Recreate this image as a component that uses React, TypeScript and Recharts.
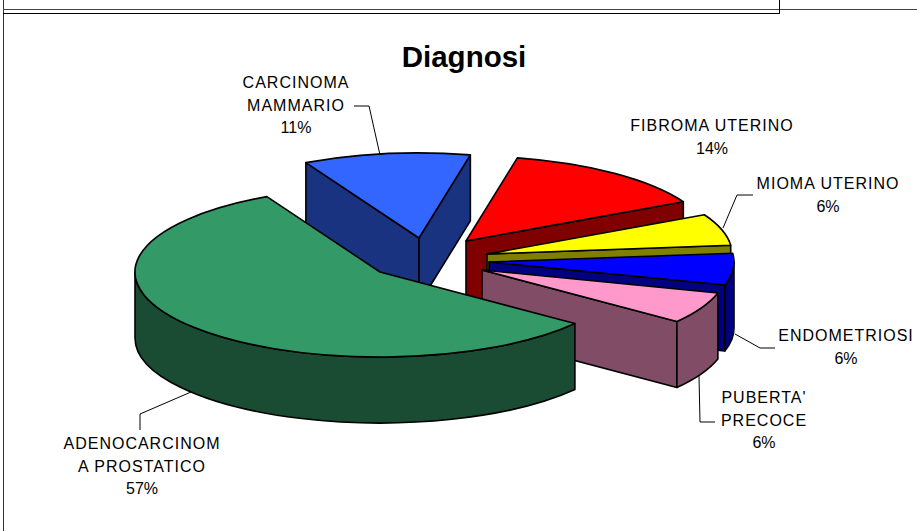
import { PieChart, Pie } from 'recharts'

// draw order is back to front, so the big slice comes last
const categories = ['CARCINOMA MAMMARIO', 'FIBROMA UTERINO', 'MIOMA UTERINO', 'ENDOMETRIOSI', "PUBERTA' PRECOCE", 'ADENOCARCINOMA PROSTATICO']
const percents = [11, 14, 6, 6, 6, 57]
const topColors = ['#3366ff', '#ff0000', '#ffff00', '#0000ff', '#ff99cc', '#339966']
const sideColors = ['#1a3380', '#800000', '#808000', '#000080', '#804c66', '#1a4c33']
const labelLines = [
  ['CARCINOMA', 'MAMMARIO'], ['FIBROMA UTERINO'], ['MIOMA UTERINO'],
  ['ENDOMETRIOSI'], ["PUBERTA'", 'PRECOCE'], ['ADENOCARCINOM', 'A PROSTATICO'],
]

const W = 917
const H = 531
const CX = 440
const CY = 262
const RX = 245
const SQUASH = 0.347
const DEPTH = 66
const FONT = '"Liberation Sans", Arial, sans-serif'

// explosion of each slice from the pie centre
const explode = [[-21, -24], [26, -21], [47, -8], [49, 0], [42, 8], [-60, 10]]
// hand placed labels like the original: text centre, first baseline, leader polyline
const labelPos = [
  { x: 296, y: 88, leader: '354,106 369,106 380,155' },
  { x: 712, y: 131, leader: '' },
  { x: 828, y: 189, leader: '753,195 737,195 723,228' },
  { x: 846, y: 341, leader: '775,348 760,348 735,334' },
  { x: 764, y: 403, leader: '715,422 700,422 699,376' },
  { x: 142, y: 449, leader: '140,430 140,414 191,392' },
]

const rows = categories.map((name, i) => ({ name, value: percents[i], fill: topColors[i] }))

function Slice3D(props: any) {
  const { cx, cy, outerRadius, startAngle, endAngle, index } = props
  const ax = cx + explode[index][0]
  const ay = cy + explode[index][1]
  const rx = outerRadius
  const ry = outerRadius * SQUASH
  const pt = (deg: number) => {
    const t = (deg * Math.PI) / 180
    return [ax + rx * Math.cos(t), ay - ry * Math.sin(t)]
  }
  const [sx, sy] = pt(startAngle)
  const [ex, ey] = pt(endAngle)
  const large = startAngle - endAngle > 180 ? 1 : 0
  const side = sideColors[index]
  const top = topColors[index]
  const edge = { stroke: '#000', strokeWidth: 1.6, strokeLinejoin: 'round' as const }

  const walls = []
  // radial walls, only those facing the viewer
  if (Math.sin(((startAngle + 90) * Math.PI) / 180) < 0) {
    walls.push(<path key="s" d={`M${ax},${ay}L${sx},${sy}L${sx},${sy + DEPTH}L${ax},${ay + DEPTH}Z`} fill={side} {...edge} />)
  }
  if (Math.sin(((endAngle - 90) * Math.PI) / 180) < 0) {
    walls.push(<path key="e" d={`M${ax},${ay}L${ex},${ey}L${ex},${ey + DEPTH}L${ax},${ay + DEPTH}Z`} fill={side} {...edge} />)
  }
  // rim, front half of the ellipse only
  const hi = Math.min(startAngle, 0)
  const lo = Math.max(endAngle, -180)
  if (hi > lo) {
    const [hx, hy] = pt(hi)
    const [lx, ly] = pt(lo)
    walls.push(
      <path key="r" d={`M${hx},${hy}A${rx},${ry} 0 0 1 ${lx},${ly}L${lx},${ly + DEPTH}A${rx},${ry} 0 0 0 ${hx},${hy + DEPTH}Z`} fill={side} {...edge} />,
    )
  }
  return (
    <g>
      {walls}
      <path d={`M${ax},${ay}L${sx},${sy}A${rx},${ry} 0 ${large} 1 ${ex},${ey}Z`} fill={top} {...edge} />
    </g>
  )
}

function SliceLabel(props: any) {
  const { index, value } = props
  const p = labelPos[index]
  const lines = labelLines[index]
  return (
    <g>
      {p.leader && <polyline points={p.leader} fill="none" stroke="#000" strokeWidth={1} />}
      <text textAnchor="middle" fontFamily={FONT} fontSize={16} fill="#000">
        {lines.map((l, i) => (
          <tspan key={l} x={p.x} y={p.y + i * 22.5} letterSpacing={1}>{l}</tspan>
        ))}
        <tspan x={p.x} y={p.y + lines.length * 22.5}>{value}%</tspan>
      </text>
    </g>
  )
}

export default function App() {
  return (
    <div style={{ position: 'absolute', left: 0, top: 0, width: W, height: H, background: '#fff', overflow: 'hidden' }}>
      {/* leftovers of the page frame around the chart */}
      <div style={{ position: 'absolute', left: 3, top: 0, width: 1, height: H, background: '#333' }} />
      <div style={{ position: 'absolute', left: 3, top: 9, width: W, height: 1, background: '#444' }} />
      <div style={{ position: 'absolute', left: 3, top: 13, width: 777, height: 1, background: '#000' }} />
      <div style={{ position: 'absolute', left: 779, top: 0, width: 1, height: 14, background: '#000' }} />
      <div style={{ position: 'absolute', left: 0, top: 0 }}>
        <PieChart width={W} height={H} margin={{ top: 0, right: 0, bottom: 0, left: 0 }}>
          <text x={464} y={67} textAnchor="middle" fontFamily={FONT} fontSize={29.5} fontWeight="bold" fill="#000">Diagnosi</text>
          <Pie
            data={rows}
            dataKey="value"
            nameKey="name"
            cx={CX}
            cy={CY}
            innerRadius={0}
            outerRadius={RX}
            startAngle={117.5}
            endAngle={-242.5}
            paddingAngle={0}
            shape={Slice3D}
            label={SliceLabel}
            labelLine={false}
            isAnimationActive={false}
          />
        </PieChart>
      </div>
    </div>
  )
}
